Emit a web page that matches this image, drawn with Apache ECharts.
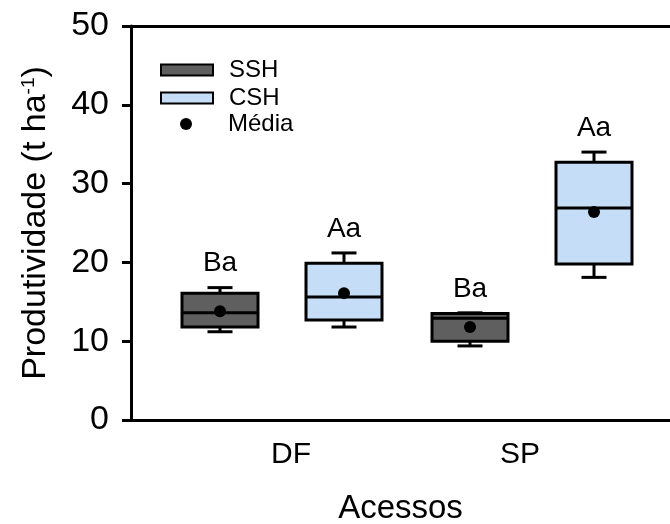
<!DOCTYPE html>
<html>
<head>
<meta charset="utf-8">
<script src="https://cdn.jsdelivr.net/npm/echarts@6/dist/echarts.min.js"></script>
<style>
  html, body { margin: 0; padding: 0; background: #fff; }
  #chart { width: 670px; height: 524px; }
</style>
</head>
<body>
<div id="chart"></div>
<script>
// Productivity per accession (t ha-1), with and without treatment
const categories = ['DF', 'SP'];
const categoryPos = [1, 2];

// [lower whisker, Q1, median, Q3, upper whisker]
const sshStats = [
  [11.2, 11.8, 13.6, 16.1, 16.8],
  [9.4, 10.0, 12.9, 13.5, 13.6]
];
const cshStats = [
  [11.8, 12.7, 15.6, 19.9, 21.2],
  [18.1, 19.8, 26.9, 32.7, 34.0]
];
const sshMeans = [13.8, 11.8];
const cshMeans = [16.1, 26.4];
const sshLetters = ['Ba', 'Ba'];
const cshLetters = ['Aa', 'Aa'];

const FONT = "'Liberation Sans', Arial, sans-serif";
const SHIFT = 0.248;     // horizontal offset of each box from its category centre
const BOX_HALF = 0.152;  // half box width, in axis units
const CAP_HALF = 0.05;   // half whisker-cap width, in axis units

function boxData(stats) {
  return stats.map((s, i) => [categoryPos[i]].concat(s, [i]));
}

function makeRenderer(shift, fill, letters) {
  return function (params, api) {
    const x = api.value(0) + shift;
    const lo = api.coord([x, api.value(1)]);
    const q1 = api.coord([x, api.value(2)]);
    const md = api.coord([x, api.value(3)]);
    const q3 = api.coord([x, api.value(4)]);
    const hi = api.coord([x, api.value(5)]);
    const hw = api.size([BOX_HALF, 0])[0];
    const cw = api.size([CAP_HALF, 0])[0];
    const cx = lo[0];
    const line = { stroke: '#000', lineWidth: 3 };
    return {
      type: 'group',
      children: [
        { type: 'line', shape: { x1: cx, y1: q3[1], x2: cx, y2: hi[1] }, style: line },
        { type: 'line', shape: { x1: cx - cw, y1: hi[1], x2: cx + cw, y2: hi[1] }, style: line },
        { type: 'line', shape: { x1: cx, y1: q1[1], x2: cx, y2: lo[1] }, style: line },
        { type: 'line', shape: { x1: cx - cw, y1: lo[1], x2: cx + cw, y2: lo[1] }, style: line },
        { type: 'rect', shape: { x: cx - hw, y: q3[1], width: 2 * hw, height: q1[1] - q3[1] },
          style: { fill: fill, stroke: '#000', lineWidth: 3 } },
        { type: 'line', shape: { x1: cx - hw, y1: md[1], x2: cx + hw, y2: md[1] }, style: line },
        { type: 'text', style: { text: letters[api.value(6)], x: cx, y: hi[1] - 24,
          align: 'center', verticalAlign: 'middle', fill: '#000', font: '28px ' + FONT } }
      ]
    };
  };
}

const meanData = sshMeans.map((m, i) => [categoryPos[i] - SHIFT, m])
  .concat(cshMeans.map((m, i) => [categoryPos[i] + SHIFT, m]));

const legendText = { fontFamily: FONT, fontSize: 24, lineHeight: 26, color: '#000' };
const catLabel = { fontFamily: FONT, fontSize: 30, color: '#000' };

const chart = echarts.init(document.getElementById('chart'));
chart.setOption({
  animation: false,
  backgroundColor: '#fff',
  grid: { left: 131, right: 0, top: 26, bottom: 104, outerBoundsMode: 'none' },
  legend: [
    {
      left: 160, top: 57, itemWidth: 52, itemHeight: 11, icon: 'rect', padding: 0,
      selectedMode: false,
      textStyle: Object.assign({ padding: [0, 0, 0, 11] }, legendText),
      data: ['SSH']
    },
    {
      left: 160, top: 85, itemWidth: 52, itemHeight: 11, icon: 'rect', padding: 0,
      selectedMode: false,
      textStyle: Object.assign({ padding: [0, 0, 0, 11] }, legendText),
      data: ['CSH']
    },
    {
      left: 180, top: 111, itemWidth: 12, itemHeight: 12, icon: 'circle', padding: 0,
      selectedMode: false,
      itemStyle: { color: '#000', opacity: 1 },
      textStyle: Object.assign({ padding: [0, 0, 0, 31] }, legendText),
      data: ['Média']
    }
  ],
  xAxis: [
    {
      type: 'value', min: 0.396, max: 2.552,
      name: 'Acessos', nameLocation: 'middle', nameGap: 72,
      nameTextStyle: { fontFamily: FONT, fontSize: 33, color: '#000' },
      axisLine: { lineStyle: { color: '#000', width: 3 } },
      axisTick: { show: false },
      splitLine: { show: false },
      axisLabel: {
        customValues: categoryPos,
        formatter: v => {
          const i = categoryPos.indexOf(v);
          return i < 0 ? '' : '{c' + i + '|' + categories[i] + '}';
        },
        margin: 20,
        rich: {
          c0: Object.assign({ padding: [0, 0, 0, 18] }, catLabel),
          c1: Object.assign({ padding: [0, 24, 0, 0] }, catLabel)
        }
      }
    },
    {
      type: 'value', position: 'top', min: 0.396, max: 2.552,
      axisLine: { lineStyle: { color: '#000', width: 3 } },
      axisTick: { show: false }, axisLabel: { show: false }, splitLine: { show: false }
    }
  ],
  yAxis: {
    type: 'value', min: 0, max: 50, interval: 10,
    name: 'Produtividade (t ha{sup|-1})', nameLocation: 'middle', nameRotate: 90, nameGap: 78,
    nameTextStyle: {
      fontFamily: FONT, fontSize: 34, color: '#000',
      rich: { sup: { fontFamily: FONT, fontSize: 19, color: '#000', verticalAlign: 'top', padding: [0, 0, 12, 0] } }
    },
    axisLine: { show: true, lineStyle: { color: '#000', width: 3 } },
    axisTick: { show: true, length: 9, lineStyle: { color: '#000', width: 3 } },
    splitLine: { show: false },
    axisLabel: { margin: 22, fontFamily: FONT, fontSize: 34, color: '#000' }
  },
  series: [
    {
      name: 'SSH', type: 'custom',
      itemStyle: { color: '#5f5f5f', borderColor: '#000', borderWidth: 3 },
      encode: { x: 0, y: [1, 2, 3, 4, 5] },
      renderItem: makeRenderer(-SHIFT, '#5f5f5f', sshLetters),
      data: boxData(sshStats), z: 2
    },
    {
      name: 'CSH', type: 'custom',
      itemStyle: { color: '#c6ddf7', borderColor: '#000', borderWidth: 3 },
      encode: { x: 0, y: [1, 2, 3, 4, 5] },
      renderItem: makeRenderer(SHIFT, '#c6ddf7', cshLetters),
      data: boxData(cshStats), z: 2
    },
    {
      name: 'Média', type: 'scatter', symbol: 'circle', symbolSize: 12,
      itemStyle: { color: '#000', opacity: 1 }, data: meanData, z: 5
    }
  ]
});
</script>
</body>
</html>
